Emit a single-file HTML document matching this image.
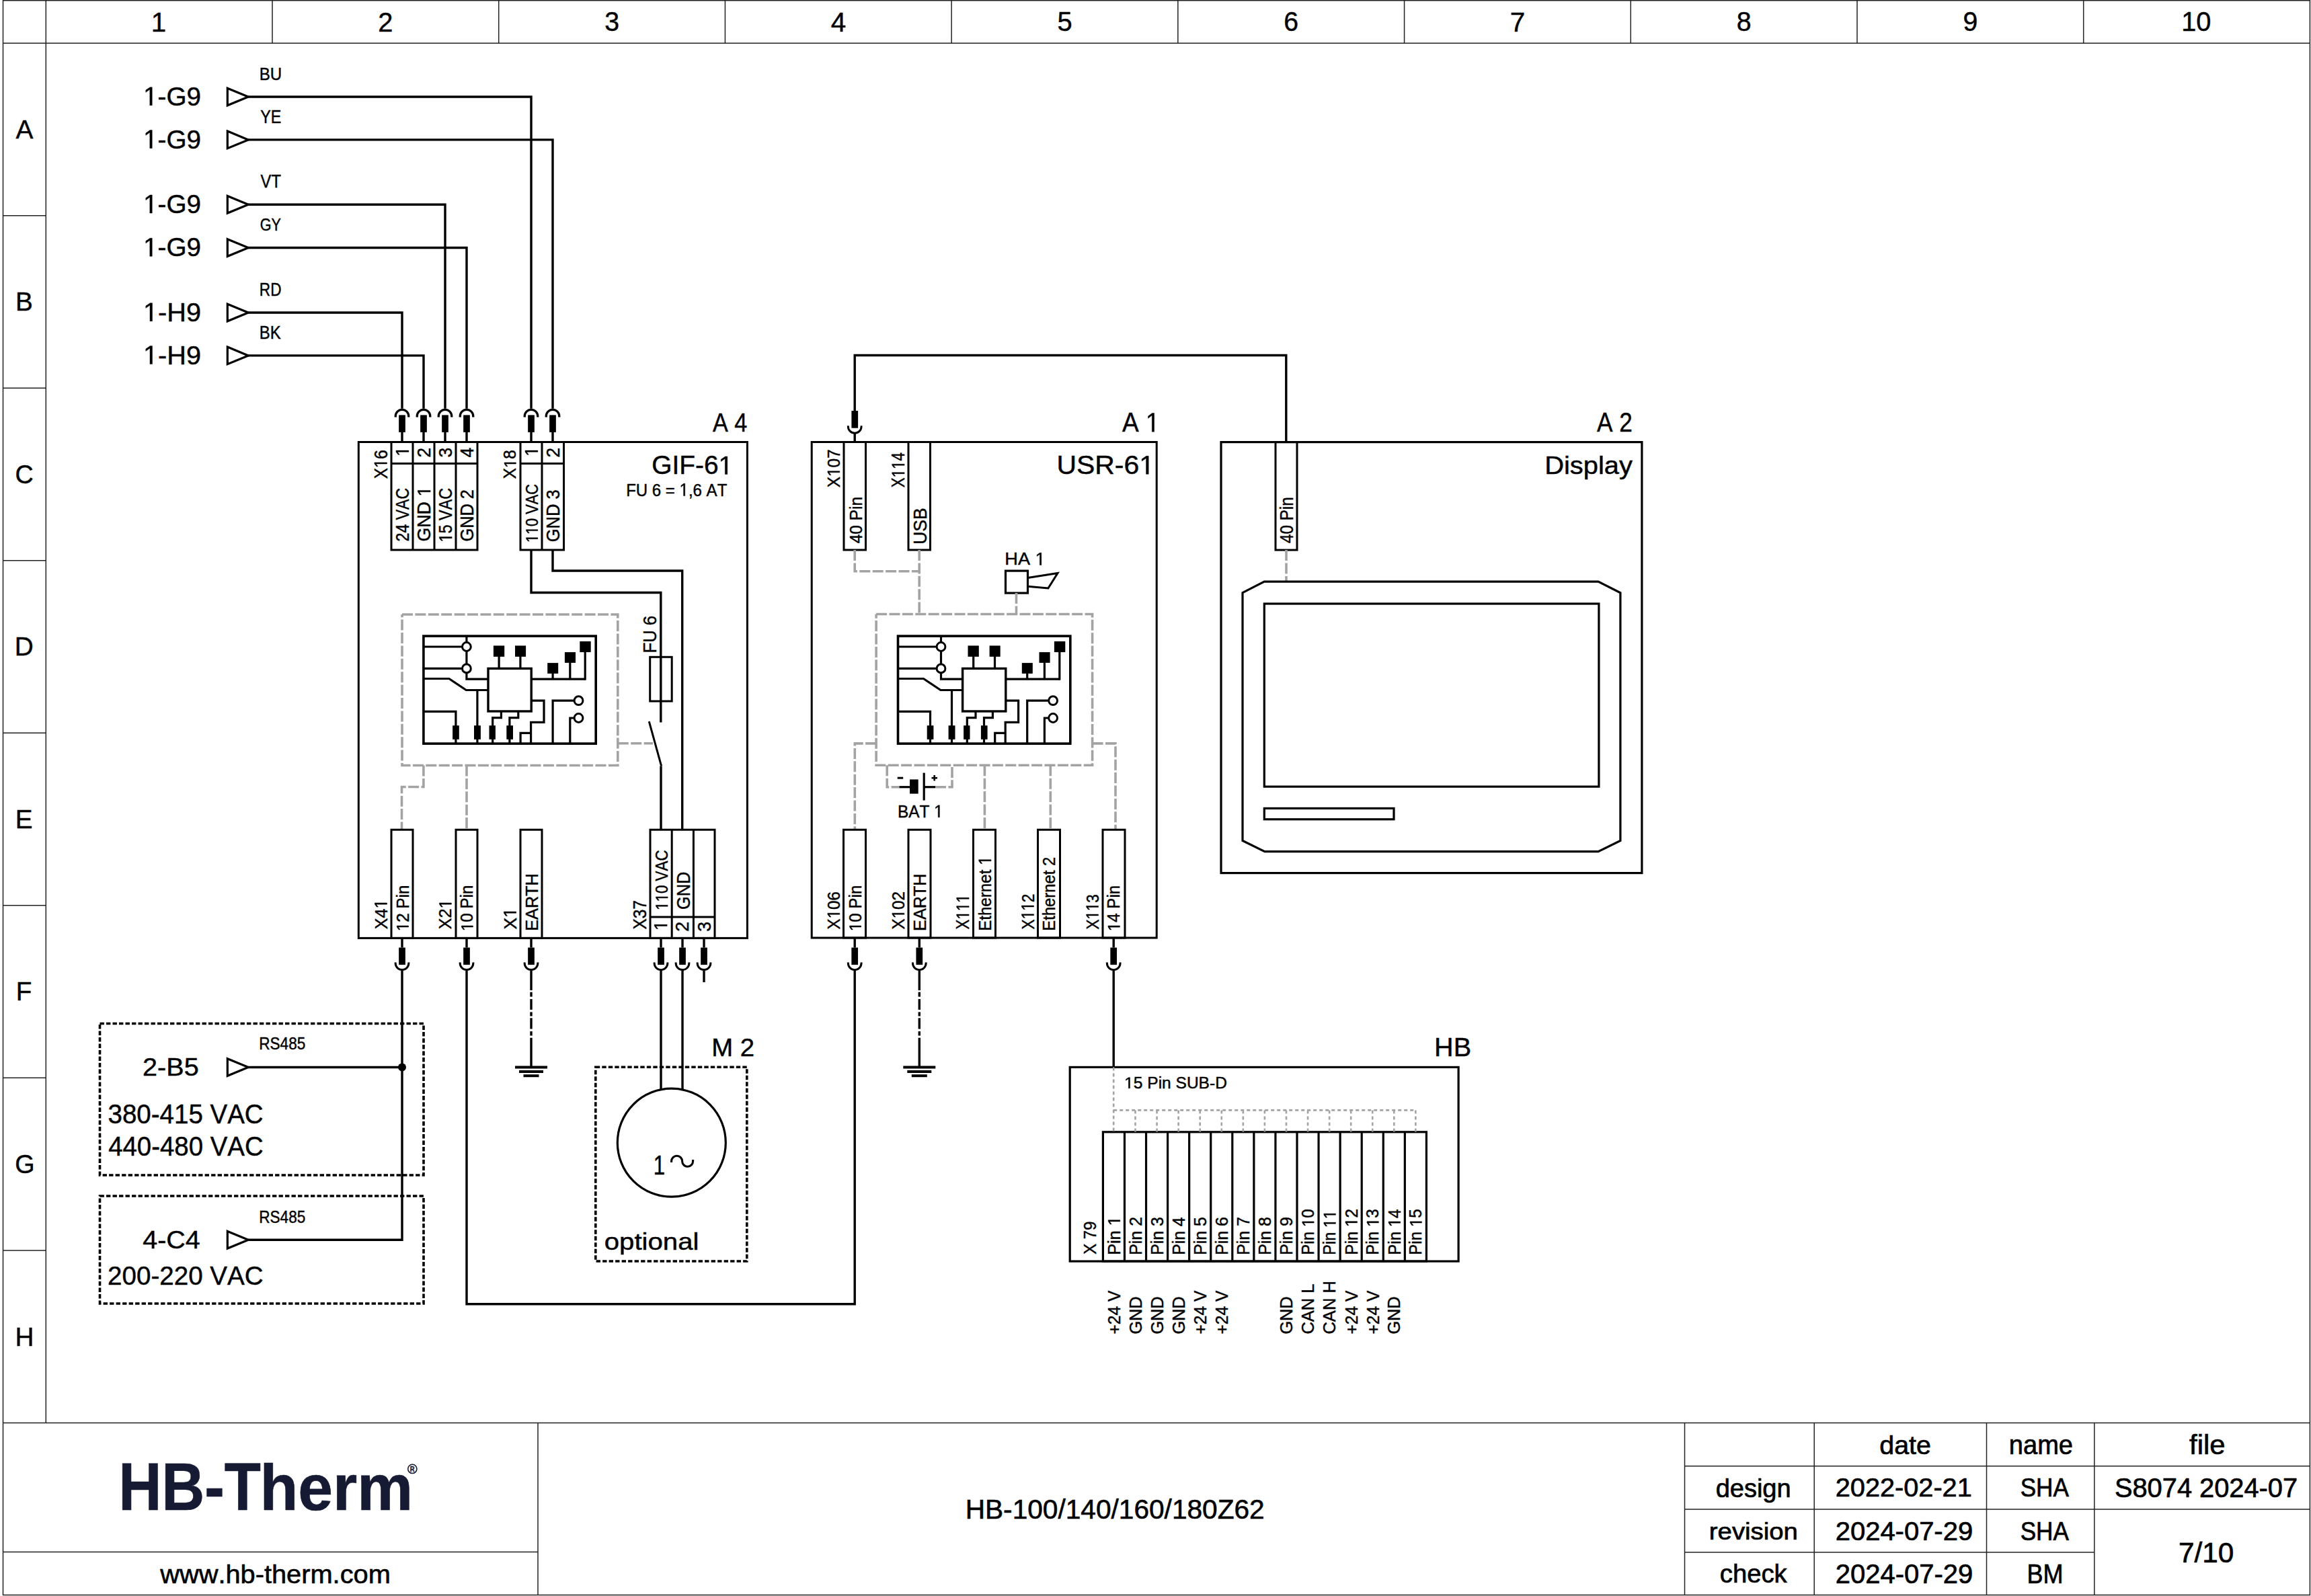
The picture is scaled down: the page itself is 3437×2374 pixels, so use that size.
<!DOCTYPE html>
<html><head><meta charset="utf-8"><style>
html,body{margin:0;padding:0;background:#fff;overflow:hidden;}
svg{display:block;}
text{font-family:"Liberation Sans",sans-serif;font-kerning:none;font-variant-ligatures:none;}
</style></head><body>
<svg width="3437" height="2374" viewBox="0 0 3437 2374">
<rect x="0" y="0" width="3437" height="2374" fill="#fff"/>
<g stroke="#222" stroke-width="1.50">
<rect x="4.50" y="0.75" width="3430.90" height="2371.75" stroke="#222" stroke-width="1.50" fill="none"/>
<line x1="4.50" y1="64.20" x2="3435.40" y2="64.20" stroke="#222" stroke-width="1.50"/>
<line x1="68.30" y1="0.75" x2="68.30" y2="2116.40" stroke="#222" stroke-width="1.50"/>
<line x1="405.01" y1="0.75" x2="405.01" y2="64.20" stroke="#222" stroke-width="1.50"/>
<line x1="741.72" y1="0.75" x2="741.72" y2="64.20" stroke="#222" stroke-width="1.50"/>
<line x1="1078.43" y1="0.75" x2="1078.43" y2="64.20" stroke="#222" stroke-width="1.50"/>
<line x1="1415.14" y1="0.75" x2="1415.14" y2="64.20" stroke="#222" stroke-width="1.50"/>
<line x1="1751.85" y1="0.75" x2="1751.85" y2="64.20" stroke="#222" stroke-width="1.50"/>
<line x1="2088.56" y1="0.75" x2="2088.56" y2="64.20" stroke="#222" stroke-width="1.50"/>
<line x1="2425.27" y1="0.75" x2="2425.27" y2="64.20" stroke="#222" stroke-width="1.50"/>
<line x1="2761.98" y1="0.75" x2="2761.98" y2="64.20" stroke="#222" stroke-width="1.50"/>
<line x1="3098.69" y1="0.75" x2="3098.69" y2="64.20" stroke="#222" stroke-width="1.50"/>
<line x1="4.50" y1="320.73" x2="68.30" y2="320.73" stroke="#222" stroke-width="1.50"/>
<line x1="4.50" y1="577.25" x2="68.30" y2="577.25" stroke="#222" stroke-width="1.50"/>
<line x1="4.50" y1="833.78" x2="68.30" y2="833.78" stroke="#222" stroke-width="1.50"/>
<line x1="4.50" y1="1090.30" x2="68.30" y2="1090.30" stroke="#222" stroke-width="1.50"/>
<line x1="4.50" y1="1346.83" x2="68.30" y2="1346.83" stroke="#222" stroke-width="1.50"/>
<line x1="4.50" y1="1603.35" x2="68.30" y2="1603.35" stroke="#222" stroke-width="1.50"/>
<line x1="4.50" y1="1859.88" x2="68.30" y2="1859.88" stroke="#222" stroke-width="1.50"/>
<line x1="4.50" y1="2116.40" x2="3435.40" y2="2116.40" stroke="#222" stroke-width="1.50"/>
<line x1="800.00" y1="2116.40" x2="800.00" y2="2372.50" stroke="#222" stroke-width="1.50"/>
<line x1="4.50" y1="2308.40" x2="800.00" y2="2308.40" stroke="#222" stroke-width="1.50"/>
<line x1="2505.50" y1="2116.40" x2="2505.50" y2="2372.50" stroke="#222" stroke-width="1.50"/>
<line x1="2698.20" y1="2116.40" x2="2698.20" y2="2372.50" stroke="#222" stroke-width="1.50"/>
<line x1="2954.50" y1="2116.40" x2="2954.50" y2="2372.50" stroke="#222" stroke-width="1.50"/>
<line x1="3114.80" y1="2116.40" x2="3114.80" y2="2372.50" stroke="#222" stroke-width="1.50"/>
<line x1="2505.50" y1="2180.70" x2="3435.40" y2="2180.70" stroke="#222" stroke-width="1.50"/>
<line x1="2505.50" y1="2244.90" x2="3435.40" y2="2244.90" stroke="#222" stroke-width="1.50"/>
<line x1="2505.50" y1="2309.10" x2="3114.80" y2="2309.10" stroke="#222" stroke-width="1.50"/>
</g>
<text x="224.87" y="46.77" font-size="41.43" textLength="22.46" lengthAdjust="spacingAndGlyphs" stroke="#000" stroke-width="0.45">1</text>
<text x="562.29" y="46.77" font-size="40.82" textLength="22.15" lengthAdjust="spacingAndGlyphs" stroke="#000" stroke-width="0.45">2</text>
<text x="899.26" y="46.38" font-size="40.25" textLength="21.86" lengthAdjust="spacingAndGlyphs" stroke="#000" stroke-width="0.45">3</text>
<text x="1235.64" y="46.77" font-size="41.43" textLength="22.54" lengthAdjust="spacingAndGlyphs" stroke="#000" stroke-width="0.45">4</text>
<text x="1572.44" y="46.38" font-size="40.85" textLength="22.19" lengthAdjust="spacingAndGlyphs" stroke="#000" stroke-width="0.45">5</text>
<text x="1909.15" y="46.38" font-size="40.25" textLength="21.84" lengthAdjust="spacingAndGlyphs" stroke="#000" stroke-width="0.45">6</text>
<text x="2245.65" y="46.77" font-size="41.43" textLength="22.49" lengthAdjust="spacingAndGlyphs" stroke="#000" stroke-width="0.45">7</text>
<text x="2582.70" y="46.38" font-size="40.25" textLength="21.85" lengthAdjust="spacingAndGlyphs" stroke="#000" stroke-width="0.45">8</text>
<text x="2919.42" y="46.38" font-size="40.25" textLength="21.85" lengthAdjust="spacingAndGlyphs" stroke="#000" stroke-width="0.45">9</text>
<text x="3244.17" y="46.38" font-size="40.25" textLength="44.27" lengthAdjust="spacingAndGlyphs" stroke="#000" stroke-width="0.45">10</text>
<text x="23.44" y="205.84" font-size="39.54" textLength="25.92" lengthAdjust="spacingAndGlyphs" stroke="#000" stroke-width="0.45">A</text>
<text x="22.93" y="462.36" font-size="39.54" textLength="25.81" lengthAdjust="spacingAndGlyphs" stroke="#000" stroke-width="0.45">B</text>
<text x="22.55" y="718.51" font-size="38.42" textLength="27.23" lengthAdjust="spacingAndGlyphs" stroke="#000" stroke-width="0.45">C</text>
<text x="21.74" y="975.41" font-size="39.54" textLength="28.00" lengthAdjust="spacingAndGlyphs" stroke="#000" stroke-width="0.45">D</text>
<text x="22.74" y="1231.94" font-size="39.54" textLength="25.82" lengthAdjust="spacingAndGlyphs" stroke="#000" stroke-width="0.45">E</text>
<text x="23.80" y="1488.46" font-size="39.54" textLength="23.59" lengthAdjust="spacingAndGlyphs" stroke="#000" stroke-width="0.45">F</text>
<text x="22.19" y="1744.61" font-size="38.42" textLength="29.35" lengthAdjust="spacingAndGlyphs" stroke="#000" stroke-width="0.45">G</text>
<text x="22.41" y="2001.51" font-size="39.54" textLength="27.97" lengthAdjust="spacingAndGlyphs" stroke="#000" stroke-width="0.45">H</text>
<text x="176.22" y="2246.45" font-size="101.02" textLength="211.78" lengthAdjust="spacingAndGlyphs" font-weight="bold" fill="#161b33" stroke="#161b33" stroke-width="0.70">HB-T</text>
<text x="386.45" y="2246.45" font-size="95.91" textLength="227.57" lengthAdjust="spacingAndGlyphs" font-weight="bold" fill="#161b33" stroke="#161b33" stroke-width="0.70">herm</text>
<circle cx="613.3" cy="2184.9" r="6.6" stroke="#161b33" stroke-width="1.6" fill="none"/>
<text x="609.80" y="2188.78" font-size="11.12" textLength="6.77" lengthAdjust="spacingAndGlyphs" font-weight="bold" fill="#161b33" stroke="#161b33" stroke-width="0.45">R</text>
<text x="238.26" y="2354.90" font-size="39.33" textLength="342.56" lengthAdjust="spacingAndGlyphs" stroke="#000" stroke-width="0.60">www.hb-therm.com</text>
<text x="1435.67" y="2258.90" font-size="40.55" textLength="445.08" lengthAdjust="spacingAndGlyphs" stroke="#000" stroke-width="0.60">HB-100/140/160/180Z62</text>
<g transform="translate(213.11 156.69)"><text x="0" y="0" font-size="39.19" textLength="85.90" lengthAdjust="spacingAndGlyphs" stroke="#000" stroke-width="0.45"> -G9</text><path transform="translate(0.000 0) scale(0.01887 -0.01914)" d="M515 0 L515 1237 L197 1010 L197 1180 L530 1409 L696 1409 L696 0 Z" fill="#000" stroke="#000" stroke-width="0.45" vector-effect="non-scaling-stroke"/></g>
<path d="M338.30 131.20 L369.30 144.00 L338.30 156.80 Z" stroke="#000" stroke-width="3.20" fill="none" stroke-linejoin="miter"/>
<path d="M369.30 144.00 L790.00 144.00 L790.00 607.70" stroke="#000" stroke-width="3.40" fill="none" stroke-linejoin="miter"/>
<text x="385.75" y="118.52" font-size="26.59" textLength="33.49" lengthAdjust="spacingAndGlyphs" stroke="#000" stroke-width="0.45">BU</text>
<g transform="translate(213.11 220.59)"><text x="0" y="0" font-size="39.19" textLength="85.90" lengthAdjust="spacingAndGlyphs" stroke="#000" stroke-width="0.45"> -G9</text><path transform="translate(0.000 0) scale(0.01887 -0.01914)" d="M515 0 L515 1237 L197 1010 L197 1180 L530 1409 L696 1409 L696 0 Z" fill="#000" stroke="#000" stroke-width="0.45" vector-effect="non-scaling-stroke"/></g>
<path d="M338.30 195.10 L369.30 207.90 L338.30 220.70 Z" stroke="#000" stroke-width="3.20" fill="none" stroke-linejoin="miter"/>
<path d="M369.30 207.90 L822.00 207.90 L822.00 607.70" stroke="#000" stroke-width="3.40" fill="none" stroke-linejoin="miter"/>
<text x="387.21" y="182.68" font-size="26.96" textLength="31.17" lengthAdjust="spacingAndGlyphs" stroke="#000" stroke-width="0.45">YE</text>
<g transform="translate(213.11 316.99)"><text x="0" y="0" font-size="39.19" textLength="85.90" lengthAdjust="spacingAndGlyphs" stroke="#000" stroke-width="0.45"> -G9</text><path transform="translate(0.000 0) scale(0.01887 -0.01914)" d="M515 0 L515 1237 L197 1010 L197 1180 L530 1409 L696 1409 L696 0 Z" fill="#000" stroke="#000" stroke-width="0.45" vector-effect="non-scaling-stroke"/></g>
<path d="M338.30 291.50 L369.30 304.30 L338.30 317.10 Z" stroke="#000" stroke-width="3.20" fill="none" stroke-linejoin="miter"/>
<path d="M369.30 304.30 L662.00 304.30 L662.00 607.70" stroke="#000" stroke-width="3.40" fill="none" stroke-linejoin="miter"/>
<text x="387.62" y="279.07" font-size="26.96" textLength="30.30" lengthAdjust="spacingAndGlyphs" stroke="#000" stroke-width="0.45">VT</text>
<g transform="translate(213.11 381.19)"><text x="0" y="0" font-size="39.19" textLength="85.90" lengthAdjust="spacingAndGlyphs" stroke="#000" stroke-width="0.45"> -G9</text><path transform="translate(0.000 0) scale(0.01887 -0.01914)" d="M515 0 L515 1237 L197 1010 L197 1180 L530 1409 L696 1409 L696 0 Z" fill="#000" stroke="#000" stroke-width="0.45" vector-effect="non-scaling-stroke"/></g>
<path d="M338.30 355.70 L369.30 368.50 L338.30 381.30 Z" stroke="#000" stroke-width="3.20" fill="none" stroke-linejoin="miter"/>
<path d="M369.30 368.50 L694.00 368.50 L694.00 607.70" stroke="#000" stroke-width="3.40" fill="none" stroke-linejoin="miter"/>
<text x="386.64" y="343.02" font-size="26.20" textLength="31.21" lengthAdjust="spacingAndGlyphs" stroke="#000" stroke-width="0.45">GY</text>
<g transform="translate(213.01 477.69)"><text x="0" y="0" font-size="39.19" textLength="86.05" lengthAdjust="spacingAndGlyphs" stroke="#000" stroke-width="0.45"> -H9</text><path transform="translate(0.000 0) scale(0.01938 -0.01914)" d="M515 0 L515 1237 L197 1010 L197 1180 L530 1409 L696 1409 L696 0 Z" fill="#000" stroke="#000" stroke-width="0.45" vector-effect="non-scaling-stroke"/></g>
<path d="M338.30 452.20 L369.30 465.00 L338.30 477.80 Z" stroke="#000" stroke-width="3.20" fill="none" stroke-linejoin="miter"/>
<path d="M369.30 465.00 L598.00 465.00 L598.00 607.70" stroke="#000" stroke-width="3.40" fill="none" stroke-linejoin="miter"/>
<text x="385.87" y="439.77" font-size="26.96" textLength="32.58" lengthAdjust="spacingAndGlyphs" stroke="#000" stroke-width="0.45">RD</text>
<g transform="translate(213.01 541.59)"><text x="0" y="0" font-size="39.19" textLength="86.05" lengthAdjust="spacingAndGlyphs" stroke="#000" stroke-width="0.45"> -H9</text><path transform="translate(0.000 0) scale(0.01938 -0.01914)" d="M515 0 L515 1237 L197 1010 L197 1180 L530 1409 L696 1409 L696 0 Z" fill="#000" stroke="#000" stroke-width="0.45" vector-effect="non-scaling-stroke"/></g>
<path d="M338.30 516.10 L369.30 528.90 L338.30 541.70 Z" stroke="#000" stroke-width="3.20" fill="none" stroke-linejoin="miter"/>
<path d="M369.30 528.90 L630.00 528.90 L630.00 607.70" stroke="#000" stroke-width="3.40" fill="none" stroke-linejoin="miter"/>
<text x="385.76" y="503.67" font-size="26.96" textLength="31.88" lengthAdjust="spacingAndGlyphs" stroke="#000" stroke-width="0.45">BK</text>
<path d="M780.25 620.6 L780.25 619.1 A9.75 9.75 0 0 1 799.75 619.1 L799.75 620.6" stroke="#000" stroke-width="3.3" fill="none"/>
<rect x="785.15" y="617.40" width="9.70" height="25.60" fill="#000"/>
<line x1="790.00" y1="643.00" x2="790.00" y2="657.50" stroke="#000" stroke-width="3.40"/>
<path d="M812.25 620.6 L812.25 619.1 A9.75 9.75 0 0 1 831.75 619.1 L831.75 620.6" stroke="#000" stroke-width="3.3" fill="none"/>
<rect x="817.15" y="617.40" width="9.70" height="25.60" fill="#000"/>
<line x1="822.00" y1="643.00" x2="822.00" y2="657.50" stroke="#000" stroke-width="3.40"/>
<path d="M652.25 620.6 L652.25 619.1 A9.75 9.75 0 0 1 671.75 619.1 L671.75 620.6" stroke="#000" stroke-width="3.3" fill="none"/>
<rect x="657.15" y="617.40" width="9.70" height="25.60" fill="#000"/>
<line x1="662.00" y1="643.00" x2="662.00" y2="657.50" stroke="#000" stroke-width="3.40"/>
<path d="M684.25 620.6 L684.25 619.1 A9.75 9.75 0 0 1 703.75 619.1 L703.75 620.6" stroke="#000" stroke-width="3.3" fill="none"/>
<rect x="689.15" y="617.40" width="9.70" height="25.60" fill="#000"/>
<line x1="694.00" y1="643.00" x2="694.00" y2="657.50" stroke="#000" stroke-width="3.40"/>
<path d="M588.25 620.6 L588.25 619.1 A9.75 9.75 0 0 1 607.75 619.1 L607.75 620.6" stroke="#000" stroke-width="3.3" fill="none"/>
<rect x="593.15" y="617.40" width="9.70" height="25.60" fill="#000"/>
<line x1="598.00" y1="643.00" x2="598.00" y2="657.50" stroke="#000" stroke-width="3.40"/>
<path d="M620.25 620.6 L620.25 619.1 A9.75 9.75 0 0 1 639.75 619.1 L639.75 620.6" stroke="#000" stroke-width="3.3" fill="none"/>
<rect x="625.15" y="617.40" width="9.70" height="25.60" fill="#000"/>
<line x1="630.00" y1="643.00" x2="630.00" y2="657.50" stroke="#000" stroke-width="3.40"/>
<rect x="533.30" y="657.50" width="578.10" height="737.90" stroke="#000" stroke-width="3.00" fill="none"/>
<rect x="582.00" y="657.50" width="128.00" height="160.50" stroke="#000" stroke-width="3.00" fill="none"/>
<line x1="614.00" y1="657.50" x2="614.00" y2="818.00" stroke="#000" stroke-width="3.00"/>
<line x1="646.00" y1="657.50" x2="646.00" y2="818.00" stroke="#000" stroke-width="3.00"/>
<line x1="678.00" y1="657.50" x2="678.00" y2="818.00" stroke="#000" stroke-width="3.00"/>
<line x1="582.00" y1="689.50" x2="710.00" y2="689.50" stroke="#000" stroke-width="3.00"/>
<rect x="774.00" y="657.50" width="64.50" height="160.50" stroke="#000" stroke-width="3.00" fill="none"/>
<line x1="806.00" y1="657.50" x2="806.00" y2="818.00" stroke="#000" stroke-width="3.00"/>
<line x1="774.00" y1="689.50" x2="838.50" y2="689.50" stroke="#000" stroke-width="3.00"/>
<text x="1059.96" y="641.57" font-size="38.30" textLength="51.32" lengthAdjust="spacingAndGlyphs" stroke="#000" stroke-width="0.45">A 4</text>
<g transform="translate(969.27 705.40)"><text x="0" y="0" font-size="38.35" textLength="120.91" lengthAdjust="spacingAndGlyphs" stroke="#000" stroke-width="0.45">GIF-6 </text><path transform="translate(99.300 0) scale(0.01897 -0.01872)" d="M515 0 L515 1237 L197 1010 L197 1180 L530 1409 L696 1409 L696 0 Z" fill="#000" stroke="#000" stroke-width="0.45" vector-effect="non-scaling-stroke"/></g>
<g transform="translate(931.15 737.50)"><text x="0" y="0" font-size="26.50" textLength="150.17" lengthAdjust="spacingAndGlyphs" stroke="#000" stroke-width="0.45">FU 6 =  ,6 AT</text><path transform="translate(79.419 0) scale(0.01173 -0.01294)" d="M515 0 L515 1237 L197 1010 L197 1180 L530 1409 L696 1409 L696 0 Z" fill="#000" stroke="#000" stroke-width="0.45" vector-effect="non-scaling-stroke"/></g>
<g transform="translate(575.51 712.32) rotate(-90)"><text x="0" y="0" font-size="27.05" textLength="43.16" lengthAdjust="spacingAndGlyphs" stroke="#000" stroke-width="0.45">X 6</text><path transform="translate(16.179 0) scale(0.01184 -0.01321)" d="M515 0 L515 1237 L197 1010 L197 1180 L530 1409 L696 1409 L696 0 Z" fill="#000" stroke="#000" stroke-width="0.45" vector-effect="non-scaling-stroke"/></g>
<g transform="translate(767.43 712.32) rotate(-90)"><text x="0" y="0" font-size="25.21" textLength="43.15" lengthAdjust="spacingAndGlyphs" stroke="#000" stroke-width="0.45">X 8</text><path transform="translate(16.175 0) scale(0.01184 -0.01231)" d="M515 0 L515 1237 L197 1010 L197 1180 L530 1409 L696 1409 L696 0 Z" fill="#000" stroke="#000" stroke-width="0.45" vector-effect="non-scaling-stroke"/></g>
<g transform="translate(607.88 678.79) rotate(-90)"><text x="0" y="0" font-size="27.47" textLength="14.25" lengthAdjust="spacingAndGlyphs" stroke="#000" stroke-width="0.45"> </text><path transform="translate(0.000 0) scale(0.01251 -0.01341)" d="M515 0 L515 1237 L197 1010 L197 1180 L530 1409 L696 1409 L696 0 Z" fill="#000" stroke="#000" stroke-width="0.45" vector-effect="non-scaling-stroke"/></g>
<text transform="translate(639.88 680.56) rotate(-90)" font-size="27.47" textLength="14.73" lengthAdjust="spacingAndGlyphs" stroke="#000" stroke-width="0.45">2</text>
<text transform="translate(671.88 680.50) rotate(-90)" font-size="27.47" textLength="14.75" lengthAdjust="spacingAndGlyphs" stroke="#000" stroke-width="0.45">3</text>
<text transform="translate(703.88 680.51) rotate(-90)" font-size="27.47" textLength="14.78" lengthAdjust="spacingAndGlyphs" stroke="#000" stroke-width="0.45">4</text>
<g transform="translate(799.88 678.79) rotate(-90)"><text x="0" y="0" font-size="27.47" textLength="14.25" lengthAdjust="spacingAndGlyphs" stroke="#000" stroke-width="0.45"> </text><path transform="translate(0.000 0) scale(0.01251 -0.01341)" d="M515 0 L515 1237 L197 1010 L197 1180 L530 1409 L696 1409 L696 0 Z" fill="#000" stroke="#000" stroke-width="0.45" vector-effect="non-scaling-stroke"/></g>
<text transform="translate(831.88 680.56) rotate(-90)" font-size="27.47" textLength="14.73" lengthAdjust="spacingAndGlyphs" stroke="#000" stroke-width="0.45">2</text>
<text transform="translate(608.11 805.44) rotate(-90)" font-size="27.33" textLength="79.69" lengthAdjust="spacingAndGlyphs" stroke="#000" stroke-width="0.45">24 VAC</text>
<g transform="translate(640.11 805.62) rotate(-90)"><text x="0" y="0" font-size="27.33" textLength="82.00" lengthAdjust="spacingAndGlyphs" stroke="#000" stroke-width="0.45">GND  </text><path transform="translate(67.081 0) scale(0.01310 -0.01334)" d="M515 0 L515 1237 L197 1010 L197 1180 L530 1409 L696 1409 L696 0 Z" fill="#000" stroke="#000" stroke-width="0.45" vector-effect="non-scaling-stroke"/></g>
<g transform="translate(672.11 806.53) rotate(-90)"><text x="0" y="0" font-size="27.33" textLength="80.80" lengthAdjust="spacingAndGlyphs" stroke="#000" stroke-width="0.45"> 5 VAC</text><path transform="translate(0.000 0) scale(0.01145 -0.01334)" d="M515 0 L515 1237 L197 1010 L197 1180 L530 1409 L696 1409 L696 0 Z" fill="#000" stroke="#000" stroke-width="0.45" vector-effect="non-scaling-stroke"/></g>
<text transform="translate(704.11 805.55) rotate(-90)" font-size="27.33" textLength="77.40" lengthAdjust="spacingAndGlyphs" stroke="#000" stroke-width="0.45">GND 2</text>
<g transform="translate(799.83 807.17) rotate(-90)"><text x="0" y="0" font-size="25.21" textLength="87.07" lengthAdjust="spacingAndGlyphs" stroke="#000" stroke-width="0.45">  0 VAC</text><path transform="translate(0.000 0) scale(0.01062 -0.01231)" d="M515 0 L515 1237 L197 1010 L197 1180 L530 1409 L696 1409 L696 0 Z" fill="#000" stroke="#000" stroke-width="0.45" vector-effect="non-scaling-stroke"/><path transform="translate(12.099 0) scale(0.01062 -0.01231)" d="M515 0 L515 1237 L197 1010 L197 1180 L530 1409 L696 1409 L696 0 Z" fill="#000" stroke="#000" stroke-width="0.45" vector-effect="non-scaling-stroke"/></g>
<text transform="translate(832.31 806.36) rotate(-90)" font-size="27.33" textLength="78.06" lengthAdjust="spacingAndGlyphs" stroke="#000" stroke-width="0.45">GND 3</text>
<path d="M790.00 818.00 L790.00 881.50 L982.80 881.50 L982.80 1074.60" stroke="#000" stroke-width="3.40" fill="none" stroke-linejoin="miter"/>
<rect x="966.70" y="977.30" width="32.50" height="65.70" stroke="#000" stroke-width="3.00" fill="none"/>
<line x1="965.30" y1="1073.20" x2="983.60" y2="1139.40" stroke="#000" stroke-width="3.00"/>
<path d="M983.00 1139.40 L983.00 1234.20" stroke="#000" stroke-width="3.40" fill="none" stroke-linejoin="miter"/>
<path d="M822.00 818.00 L822.00 849.00 L1014.70 849.00 L1014.70 1234.20" stroke="#000" stroke-width="3.40" fill="none" stroke-linejoin="miter"/>
<text transform="translate(976.11 971.59) rotate(-90)" font-size="27.33" textLength="55.79" lengthAdjust="spacingAndGlyphs" stroke="#000" stroke-width="0.45">FU 6</text>
<g transform="translate(0.00 0)">
<rect x="629.90" y="946.10" width="256.30" height="160.00" stroke="#000" stroke-width="3.60" fill="none"/>
<circle cx="693.9" cy="962.00" r="6.4" stroke="#000" stroke-width="3" fill="none"/>
<line x1="629.90" y1="962.00" x2="687.50" y2="962.00" stroke="#000" stroke-width="3.20"/>
<circle cx="693.9" cy="994.40" r="6.4" stroke="#000" stroke-width="3" fill="none"/>
<line x1="629.90" y1="994.40" x2="687.50" y2="994.40" stroke="#000" stroke-width="3.20"/>
<line x1="693.90" y1="946.10" x2="693.90" y2="955.60" stroke="#000" stroke-width="3.20"/>
<line x1="693.90" y1="968.40" x2="693.90" y2="988.00" stroke="#000" stroke-width="3.20"/>
<path d="M693.90 1000.80 L693.90 1010.10 L726.00 1010.10" stroke="#000" stroke-width="3.20" fill="none" stroke-linejoin="miter"/>
<path d="M629.90 1009.50 L667.90 1009.50 L693.30 1026.50 L726.00 1026.50" stroke="#000" stroke-width="3.20" fill="none" stroke-linejoin="miter"/>
<rect x="726.00" y="994.40" width="64.20" height="63.60" stroke="#000" stroke-width="3.40" fill="none"/>
<rect x="733.90" y="960.40" width="16.30" height="16.40" fill="#000"/>
<rect x="766.00" y="960.40" width="16.10" height="16.40" fill="#000"/>
<line x1="742.10" y1="976.00" x2="742.10" y2="994.40" stroke="#000" stroke-width="3.20"/>
<line x1="773.90" y1="976.00" x2="773.90" y2="994.40" stroke="#000" stroke-width="3.20"/>
<line x1="790.20" y1="1010.10" x2="870.50" y2="1010.10" stroke="#000" stroke-width="3.20"/>
<rect x="814.20" y="986.10" width="16.00" height="15.80" fill="#000"/>
<rect x="839.90" y="970.10" width="16.10" height="15.80" fill="#000"/>
<rect x="862.30" y="954.00" width="16.40" height="16.10" fill="#000"/>
<line x1="822.10" y1="1001.00" x2="822.10" y2="1010.10" stroke="#000" stroke-width="3.20"/>
<line x1="847.80" y1="985.00" x2="847.80" y2="1010.10" stroke="#000" stroke-width="3.20"/>
<line x1="870.20" y1="969.00" x2="870.20" y2="1011.60" stroke="#000" stroke-width="3.20"/>
<path d="M745.40 1058.00 L745.40 1067.70 L732.70 1067.70 L732.70 1106.00" stroke="#000" stroke-width="3.20" fill="none" stroke-linejoin="miter"/>
<rect x="727.50" y="1079.20" width="9.40" height="20.60" fill="#000"/>
<path d="M770.80 1058.00 L770.80 1067.70 L757.90 1067.70 L757.90 1106.00" stroke="#000" stroke-width="3.20" fill="none" stroke-linejoin="miter"/>
<rect x="753.30" y="1079.20" width="9.70" height="20.60" fill="#000"/>
<path d="M629.90 1058.30 L677.90 1058.30 L677.90 1106.00" stroke="#000" stroke-width="3.20" fill="none" stroke-linejoin="miter"/>
<rect x="673.10" y="1079.20" width="9.70" height="20.60" fill="#000"/>
<line x1="709.90" y1="1026.50" x2="709.90" y2="1106.00" stroke="#000" stroke-width="3.20"/>
<rect x="705.00" y="1079.20" width="9.90" height="20.60" fill="#000"/>
<path d="M790.20 1042.20 L809.00 1042.20 L809.00 1074.30 L789.60 1074.30 L789.60 1106.00" stroke="#000" stroke-width="3.20" fill="none" stroke-linejoin="miter"/>
<path d="M789.60 1090.40 L774.10 1090.40 L774.10 1106.00" stroke="#000" stroke-width="3.20" fill="none" stroke-linejoin="miter"/>
<path d="M822.10 1106.00 L822.10 1042.20 L854.10 1042.20" stroke="#000" stroke-width="3.20" fill="none" stroke-linejoin="miter"/>
<circle cx="860.5" cy="1042.2" r="6.4" stroke="#000" stroke-width="3" fill="none"/>
<path d="M847.80 1106.00 L847.80 1068.00 L854.10 1068.00" stroke="#000" stroke-width="3.20" fill="none" stroke-linejoin="miter"/>
<circle cx="860.5" cy="1068" r="6.4" stroke="#000" stroke-width="3" fill="none"/>
</g>
<g transform="translate(705.60 0)">
<rect x="629.90" y="946.10" width="256.30" height="160.00" stroke="#000" stroke-width="3.60" fill="none"/>
<circle cx="693.9" cy="962.00" r="6.4" stroke="#000" stroke-width="3" fill="none"/>
<line x1="629.90" y1="962.00" x2="687.50" y2="962.00" stroke="#000" stroke-width="3.20"/>
<circle cx="693.9" cy="994.40" r="6.4" stroke="#000" stroke-width="3" fill="none"/>
<line x1="629.90" y1="994.40" x2="687.50" y2="994.40" stroke="#000" stroke-width="3.20"/>
<line x1="693.90" y1="946.10" x2="693.90" y2="955.60" stroke="#000" stroke-width="3.20"/>
<line x1="693.90" y1="968.40" x2="693.90" y2="988.00" stroke="#000" stroke-width="3.20"/>
<path d="M693.90 1000.80 L693.90 1010.10 L726.00 1010.10" stroke="#000" stroke-width="3.20" fill="none" stroke-linejoin="miter"/>
<path d="M629.90 1009.50 L667.90 1009.50 L693.30 1026.50 L726.00 1026.50" stroke="#000" stroke-width="3.20" fill="none" stroke-linejoin="miter"/>
<rect x="726.00" y="994.40" width="64.20" height="63.60" stroke="#000" stroke-width="3.40" fill="none"/>
<rect x="733.90" y="960.40" width="16.30" height="16.40" fill="#000"/>
<rect x="766.00" y="960.40" width="16.10" height="16.40" fill="#000"/>
<line x1="742.10" y1="976.00" x2="742.10" y2="994.40" stroke="#000" stroke-width="3.20"/>
<line x1="773.90" y1="976.00" x2="773.90" y2="994.40" stroke="#000" stroke-width="3.20"/>
<line x1="790.20" y1="1010.10" x2="870.50" y2="1010.10" stroke="#000" stroke-width="3.20"/>
<rect x="814.20" y="986.10" width="16.00" height="15.80" fill="#000"/>
<rect x="839.90" y="970.10" width="16.10" height="15.80" fill="#000"/>
<rect x="862.30" y="954.00" width="16.40" height="16.10" fill="#000"/>
<line x1="822.10" y1="1001.00" x2="822.10" y2="1010.10" stroke="#000" stroke-width="3.20"/>
<line x1="847.80" y1="985.00" x2="847.80" y2="1010.10" stroke="#000" stroke-width="3.20"/>
<line x1="870.20" y1="969.00" x2="870.20" y2="1011.60" stroke="#000" stroke-width="3.20"/>
<path d="M745.40 1058.00 L745.40 1067.70 L732.70 1067.70 L732.70 1106.00" stroke="#000" stroke-width="3.20" fill="none" stroke-linejoin="miter"/>
<rect x="727.50" y="1079.20" width="9.40" height="20.60" fill="#000"/>
<path d="M770.80 1058.00 L770.80 1067.70 L757.90 1067.70 L757.90 1106.00" stroke="#000" stroke-width="3.20" fill="none" stroke-linejoin="miter"/>
<rect x="753.30" y="1079.20" width="9.70" height="20.60" fill="#000"/>
<path d="M629.90 1058.30 L677.90 1058.30 L677.90 1106.00" stroke="#000" stroke-width="3.20" fill="none" stroke-linejoin="miter"/>
<rect x="673.10" y="1079.20" width="9.70" height="20.60" fill="#000"/>
<line x1="709.90" y1="1026.50" x2="709.90" y2="1106.00" stroke="#000" stroke-width="3.20"/>
<rect x="705.00" y="1079.20" width="9.90" height="20.60" fill="#000"/>
<path d="M790.20 1042.20 L809.00 1042.20 L809.00 1074.30 L789.60 1074.30 L789.60 1106.00" stroke="#000" stroke-width="3.20" fill="none" stroke-linejoin="miter"/>
<path d="M789.60 1090.40 L774.10 1090.40 L774.10 1106.00" stroke="#000" stroke-width="3.20" fill="none" stroke-linejoin="miter"/>
<path d="M822.10 1106.00 L822.10 1042.20 L854.10 1042.20" stroke="#000" stroke-width="3.20" fill="none" stroke-linejoin="miter"/>
<circle cx="860.5" cy="1042.2" r="6.4" stroke="#000" stroke-width="3" fill="none"/>
<path d="M847.80 1106.00 L847.80 1068.00 L854.10 1068.00" stroke="#000" stroke-width="3.20" fill="none" stroke-linejoin="miter"/>
<circle cx="860.5" cy="1068" r="6.4" stroke="#000" stroke-width="3" fill="none"/>
</g>
<path d="M598.00 914.00 L918.80 914.00 L918.80 1138.50 L598.00 1138.50 L598.00 914.00" stroke="#a3a3a3" stroke-width="3.60" fill="none" stroke-linejoin="miter" stroke-dasharray="16 3.4"/>
<path d="M629.90 1138.50 L629.90 1170.50 L597.50 1170.50 L597.50 1234.20" stroke="#a3a3a3" stroke-width="3.60" fill="none" stroke-linejoin="miter" stroke-dasharray="16 3.4"/>
<path d="M694.00 1138.50 L694.00 1234.20" stroke="#a3a3a3" stroke-width="3.60" fill="none" stroke-linejoin="miter" stroke-dasharray="16 3.4"/>
<path d="M918.80 1105.80 L971.00 1105.80" stroke="#a3a3a3" stroke-width="3.60" fill="none" stroke-linejoin="miter" stroke-dasharray="16 3.4"/>
<rect x="582.00" y="1234.20" width="32.00" height="161.20" stroke="#000" stroke-width="3.00" fill="none"/>
<rect x="678.00" y="1234.20" width="32.00" height="161.20" stroke="#000" stroke-width="3.00" fill="none"/>
<rect x="774.00" y="1234.20" width="32.00" height="161.20" stroke="#000" stroke-width="3.00" fill="none"/>
<rect x="967.00" y="1234.20" width="96.00" height="161.20" stroke="#000" stroke-width="3.00" fill="none"/>
<line x1="999.20" y1="1234.20" x2="999.20" y2="1395.40" stroke="#000" stroke-width="3.00"/>
<line x1="1031.40" y1="1234.20" x2="1031.40" y2="1395.40" stroke="#000" stroke-width="3.00"/>
<line x1="967.00" y1="1364.00" x2="1063.00" y2="1364.00" stroke="#000" stroke-width="3.00"/>
<g transform="translate(575.57 1382.14) rotate(-90)"><text x="0" y="0" font-size="26.53" textLength="44.52" lengthAdjust="spacingAndGlyphs" stroke="#000" stroke-width="0.45">X4 </text><path transform="translate(30.608 0) scale(0.01222 -0.01295)" d="M515 0 L515 1237 L197 1010 L197 1180 L530 1409 L696 1409 L696 0 Z" fill="#000" stroke="#000" stroke-width="0.45" vector-effect="non-scaling-stroke"/></g>
<g transform="translate(607.57 1385.20) rotate(-90)"><text x="0" y="0" font-size="25.19" textLength="68.65" lengthAdjust="spacingAndGlyphs" stroke="#000" stroke-width="0.45"> 2 Pin</text><path transform="translate(0.000 0) scale(0.01182 -0.01230)" d="M515 0 L515 1237 L197 1010 L197 1180 L530 1409 L696 1409 L696 0 Z" fill="#000" stroke="#000" stroke-width="0.45" vector-effect="non-scaling-stroke"/></g>
<g transform="translate(671.38 1382.14) rotate(-90)"><text x="0" y="0" font-size="26.14" textLength="44.52" lengthAdjust="spacingAndGlyphs" stroke="#000" stroke-width="0.45">X2 </text><path transform="translate(30.608 0) scale(0.01222 -0.01276)" d="M515 0 L515 1237 L197 1010 L197 1180 L530 1409 L696 1409 L696 0 Z" fill="#000" stroke="#000" stroke-width="0.45" vector-effect="non-scaling-stroke"/></g>
<g transform="translate(703.43 1385.20) rotate(-90)"><text x="0" y="0" font-size="24.85" textLength="68.65" lengthAdjust="spacingAndGlyphs" stroke="#000" stroke-width="0.45"> 0 Pin</text><path transform="translate(0.000 0) scale(0.01182 -0.01213)" d="M515 0 L515 1237 L197 1010 L197 1180 L530 1409 L696 1409 L696 0 Z" fill="#000" stroke="#000" stroke-width="0.45" vector-effect="non-scaling-stroke"/></g>
<g transform="translate(767.67 1382.46) rotate(-90)"><text x="0" y="0" font-size="26.67" textLength="32.12" lengthAdjust="spacingAndGlyphs" stroke="#000" stroke-width="0.45">X </text><path transform="translate(17.515 0) scale(0.01282 -0.01302)" d="M515 0 L515 1237 L197 1010 L197 1180 L530 1409 L696 1409 L696 0 Z" fill="#000" stroke="#000" stroke-width="0.45" vector-effect="non-scaling-stroke"/></g>
<text transform="translate(799.98 1384.85) rotate(-90)" font-size="26.67" textLength="85.69" lengthAdjust="spacingAndGlyphs" stroke="#000" stroke-width="0.45">EARTH</text>
<text transform="translate(960.61 1382.52) rotate(-90)" font-size="27.19" textLength="43.53" lengthAdjust="spacingAndGlyphs" stroke="#000" stroke-width="0.45">X37</text>
<g transform="translate(993.12 1353.93) rotate(-90)"><text x="0" y="0" font-size="25.64" textLength="89.55" lengthAdjust="spacingAndGlyphs" stroke="#000" stroke-width="0.45">  0 VAC</text><path transform="translate(0.000 0) scale(0.01093 -0.01252)" d="M515 0 L515 1237 L197 1010 L197 1180 L530 1409 L696 1409 L696 0 Z" fill="#000" stroke="#000" stroke-width="0.45" vector-effect="non-scaling-stroke"/><path transform="translate(12.444 0) scale(0.01093 -0.01252)" d="M515 0 L515 1237 L197 1010 L197 1180 L530 1409 L696 1409 L696 0 Z" fill="#000" stroke="#000" stroke-width="0.45" vector-effect="non-scaling-stroke"/></g>
<text transform="translate(1025.91 1353.05) rotate(-90)" font-size="26.77" textLength="56.44" lengthAdjust="spacingAndGlyphs" stroke="#000" stroke-width="0.45">GND</text>
<g transform="translate(992.17 1384.02) rotate(-90)"><text x="0" y="0" font-size="27.62" textLength="14.33" lengthAdjust="spacingAndGlyphs" stroke="#000" stroke-width="0.45"> </text><path transform="translate(0.000 0) scale(0.01258 -0.01348)" d="M515 0 L515 1237 L197 1010 L197 1180 L530 1409 L696 1409 L696 0 Z" fill="#000" stroke="#000" stroke-width="0.45" vector-effect="non-scaling-stroke"/></g>
<text transform="translate(1024.38 1385.80) rotate(-90)" font-size="27.62" textLength="14.81" lengthAdjust="spacingAndGlyphs" stroke="#000" stroke-width="0.45">2</text>
<text transform="translate(1056.58 1385.74) rotate(-90)" font-size="27.62" textLength="14.83" lengthAdjust="spacingAndGlyphs" stroke="#000" stroke-width="0.45">3</text>
<line x1="598.00" y1="1395.40" x2="598.00" y2="1409.50" stroke="#000" stroke-width="3.40"/>
<rect x="593.15" y="1409.50" width="9.70" height="25.60" fill="#000"/>
<path d="M588.15 1431.60 L588.15 1432.80 A9.85 9.85 0 0 0 607.85 1432.80 L607.85 1431.60" stroke="#000" stroke-width="3" fill="none"/>
<line x1="694.00" y1="1395.40" x2="694.00" y2="1409.50" stroke="#000" stroke-width="3.40"/>
<rect x="689.15" y="1409.50" width="9.70" height="25.60" fill="#000"/>
<path d="M684.15 1431.60 L684.15 1432.80 A9.85 9.85 0 0 0 703.85 1432.80 L703.85 1431.60" stroke="#000" stroke-width="3" fill="none"/>
<line x1="790.00" y1="1395.40" x2="790.00" y2="1409.50" stroke="#000" stroke-width="3.40"/>
<rect x="785.15" y="1409.50" width="9.70" height="25.60" fill="#000"/>
<path d="M780.15 1431.60 L780.15 1432.80 A9.85 9.85 0 0 0 799.85 1432.80 L799.85 1431.60" stroke="#000" stroke-width="3" fill="none"/>
<line x1="983.00" y1="1395.40" x2="983.00" y2="1409.50" stroke="#000" stroke-width="3.40"/>
<rect x="978.15" y="1409.50" width="9.70" height="25.60" fill="#000"/>
<path d="M973.15 1431.60 L973.15 1432.80 A9.85 9.85 0 0 0 992.85 1432.80 L992.85 1431.60" stroke="#000" stroke-width="3" fill="none"/>
<line x1="1015.00" y1="1395.40" x2="1015.00" y2="1409.50" stroke="#000" stroke-width="3.40"/>
<rect x="1010.15" y="1409.50" width="9.70" height="25.60" fill="#000"/>
<path d="M1005.15 1431.60 L1005.15 1432.80 A9.85 9.85 0 0 0 1024.85 1432.80 L1024.85 1431.60" stroke="#000" stroke-width="3" fill="none"/>
<line x1="1047.00" y1="1395.40" x2="1047.00" y2="1409.50" stroke="#000" stroke-width="3.40"/>
<rect x="1042.15" y="1409.50" width="9.70" height="25.60" fill="#000"/>
<path d="M1037.15 1431.60 L1037.15 1432.80 A9.85 9.85 0 0 0 1056.85 1432.80 L1056.85 1431.60" stroke="#000" stroke-width="3" fill="none"/>
<path d="M598.00 1444.00 L598.00 1844.30 L369.30 1844.30" stroke="#000" stroke-width="3.40" fill="none" stroke-linejoin="miter"/>
<line x1="369.30" y1="1587.50" x2="598.00" y2="1587.50" stroke="#000" stroke-width="3.40"/>
<circle cx="598" cy="1587.5" r="6" fill="#000"/>
<path d="M694.00 1444.00 L694.00 1939.80 L1271.20 1939.80 L1271.20 1444.00" stroke="#000" stroke-width="3.40" fill="none" stroke-linejoin="miter"/>
<line x1="983.00" y1="1444.00" x2="983.00" y2="1621.00" stroke="#000" stroke-width="3.40"/>
<line x1="1015.00" y1="1444.00" x2="1015.00" y2="1621.00" stroke="#000" stroke-width="3.40"/>
<line x1="1047.00" y1="1444.00" x2="1047.00" y2="1461.00" stroke="#000" stroke-width="3.40"/>
<line x1="790.00" y1="1444.00" x2="790.00" y2="1473.00" stroke="#000" stroke-width="3.40"/>
<line x1="790.00" y1="1475.70" x2="790.00" y2="1482.60" stroke="#000" stroke-width="3.40"/>
<line x1="790.00" y1="1486.10" x2="790.00" y2="1501.90" stroke="#000" stroke-width="3.40"/>
<line x1="790.00" y1="1505.40" x2="790.00" y2="1511.50" stroke="#000" stroke-width="3.40"/>
<line x1="790.00" y1="1514.30" x2="790.00" y2="1530.50" stroke="#000" stroke-width="3.40"/>
<line x1="790.00" y1="1534.10" x2="790.00" y2="1540.50" stroke="#000" stroke-width="3.40"/>
<line x1="790.00" y1="1543.70" x2="790.00" y2="1587.50" stroke="#000" stroke-width="3.40"/>
<line x1="766.00" y1="1587.50" x2="814.00" y2="1587.50" stroke="#000" stroke-width="4.00"/>
<line x1="772.00" y1="1594.00" x2="808.00" y2="1594.00" stroke="#000" stroke-width="4.00"/>
<line x1="778.50" y1="1600.20" x2="801.50" y2="1600.20" stroke="#000" stroke-width="4.00"/>
<line x1="1367.30" y1="1444.00" x2="1367.30" y2="1473.00" stroke="#000" stroke-width="3.40"/>
<line x1="1367.30" y1="1475.70" x2="1367.30" y2="1482.60" stroke="#000" stroke-width="3.40"/>
<line x1="1367.30" y1="1486.10" x2="1367.30" y2="1501.90" stroke="#000" stroke-width="3.40"/>
<line x1="1367.30" y1="1505.40" x2="1367.30" y2="1511.50" stroke="#000" stroke-width="3.40"/>
<line x1="1367.30" y1="1514.30" x2="1367.30" y2="1530.50" stroke="#000" stroke-width="3.40"/>
<line x1="1367.30" y1="1534.10" x2="1367.30" y2="1540.50" stroke="#000" stroke-width="3.40"/>
<line x1="1367.30" y1="1543.70" x2="1367.30" y2="1587.50" stroke="#000" stroke-width="3.40"/>
<line x1="1343.30" y1="1587.50" x2="1391.30" y2="1587.50" stroke="#000" stroke-width="4.00"/>
<line x1="1349.30" y1="1594.00" x2="1385.30" y2="1594.00" stroke="#000" stroke-width="4.00"/>
<line x1="1355.80" y1="1600.20" x2="1378.80" y2="1600.20" stroke="#000" stroke-width="4.00"/>
<rect x="148.50" y="1522.50" width="481.50" height="225.50" stroke="#000" stroke-width="3.60" fill="none" stroke-dasharray="6.4 3.1"/>
<rect x="148.50" y="1779.00" width="481.50" height="160.00" stroke="#000" stroke-width="3.60" fill="none" stroke-dasharray="6.4 3.1"/>
<path d="M338.30 1574.70 L369.30 1587.50 L338.30 1600.30 Z" stroke="#000" stroke-width="3.20" fill="none" stroke-linejoin="miter"/>
<text x="385.28" y="1561.32" font-size="26.20" textLength="68.95" lengthAdjust="spacingAndGlyphs" stroke="#000" stroke-width="0.45">RS485</text>
<path d="M338.30 1831.50 L369.30 1844.30 L338.30 1857.10 Z" stroke="#000" stroke-width="3.20" fill="none" stroke-linejoin="miter"/>
<text x="385.28" y="1818.62" font-size="26.20" textLength="68.95" lengthAdjust="spacingAndGlyphs" stroke="#000" stroke-width="0.45">RS485</text>
<text x="212.14" y="1600.01" font-size="36.93" textLength="83.50" lengthAdjust="spacingAndGlyphs" stroke="#000" stroke-width="0.45">2-B5</text>
<text x="212.32" y="1856.92" font-size="36.79" textLength="85.41" lengthAdjust="spacingAndGlyphs" stroke="#000" stroke-width="0.45">4-C4</text>
<text x="160.56" y="1670.58" font-size="40.47" textLength="231.08" lengthAdjust="spacingAndGlyphs" stroke="#000" stroke-width="0.45">380-415 VAC</text>
<text x="161.14" y="1718.79" font-size="39.90" textLength="230.49" lengthAdjust="spacingAndGlyphs" stroke="#000" stroke-width="0.45">440-480 VAC</text>
<text x="160.09" y="1910.69" font-size="39.19" textLength="231.56" lengthAdjust="spacingAndGlyphs" stroke="#000" stroke-width="0.45">200-220 VAC</text>
<rect x="885.80" y="1587.30" width="225.00" height="288.70" stroke="#000" stroke-width="3.60" fill="none" stroke-dasharray="6.4 3.1"/>
<circle cx="998.8" cy="1699.7" r="80.5" stroke="#000" stroke-width="3.2" fill="none"/>
<text x="1058.28" y="1570.88" font-size="37.74" textLength="63.82" lengthAdjust="spacingAndGlyphs" stroke="#000" stroke-width="0.45">M 2</text>
<text x="971.85" y="1747.38" font-size="40.19" textLength="17.35" lengthAdjust="spacingAndGlyphs" stroke="#000" stroke-width="0.45">1</text>
<path d="M998.6 1729 L998.6 1727.3 A8 8 0 0 1 1014.6 1727.3 A8 8 0 0 0 1030.6 1727.3 L1030.6 1725" stroke="#000" stroke-width="3.1" fill="none"/>
<text x="898.74" y="1858.81" font-size="35.03" textLength="140.72" lengthAdjust="spacingAndGlyphs" stroke="#000" stroke-width="0.45">optional</text>
<rect x="1207.20" y="657.50" width="513.00" height="737.50" stroke="#000" stroke-width="3.00" fill="none"/>
<rect x="1255.00" y="657.50" width="32.50" height="160.50" stroke="#000" stroke-width="3.00" fill="none"/>
<rect x="1351.00" y="657.50" width="32.50" height="160.50" stroke="#000" stroke-width="3.00" fill="none"/>
<g transform="translate(1669.05 642.17)"><text x="0" y="0" font-size="40.33" textLength="55.52" lengthAdjust="spacingAndGlyphs" stroke="#000" stroke-width="0.45">A  </text><path transform="translate(34.951 0) scale(0.01806 -0.01969)" d="M515 0 L515 1237 L197 1010 L197 1180 L530 1409 L696 1409 L696 0 Z" fill="#000" stroke="#000" stroke-width="0.45" vector-effect="non-scaling-stroke"/></g>
<g transform="translate(1571.47 705.29)"><text x="0" y="0" font-size="39.19" textLength="145.56" lengthAdjust="spacingAndGlyphs" stroke="#000" stroke-width="0.45">USR-6 </text><path transform="translate(122.799 0) scale(0.01998 -0.01914)" d="M515 0 L515 1237 L197 1010 L197 1180 L530 1409 L696 1409 L696 0 Z" fill="#000" stroke="#000" stroke-width="0.45" vector-effect="non-scaling-stroke"/></g>
<g transform="translate(1248.82 725.32) rotate(-90)"><text x="0" y="0" font-size="26.06" textLength="57.13" lengthAdjust="spacingAndGlyphs" stroke="#000" stroke-width="0.45">X 07</text><path transform="translate(16.316 0) scale(0.01194 -0.01272)" d="M515 0 L515 1237 L197 1010 L197 1180 L530 1409 L696 1409 L696 0 Z" fill="#000" stroke="#000" stroke-width="0.45" vector-effect="non-scaling-stroke"/></g>
<text transform="translate(1281.52 808.34) rotate(-90)" font-size="26.35" textLength="69.40" lengthAdjust="spacingAndGlyphs" stroke="#000" stroke-width="0.45">40 Pin</text>
<g transform="translate(1345.08 725.28) rotate(-90)"><text x="0" y="0" font-size="26.82" textLength="52.31" lengthAdjust="spacingAndGlyphs" stroke="#000" stroke-width="0.45">X  4</text><path transform="translate(14.939 0) scale(0.01094 -0.01309)" d="M515 0 L515 1237 L197 1010 L197 1180 L530 1409 L696 1409 L696 0 Z" fill="#000" stroke="#000" stroke-width="0.45" vector-effect="non-scaling-stroke"/><path transform="translate(27.396 0) scale(0.01094 -0.01309)" d="M515 0 L515 1237 L197 1010 L197 1180 L530 1409 L696 1409 L696 0 Z" fill="#000" stroke="#000" stroke-width="0.45" vector-effect="non-scaling-stroke"/></g>
<text transform="translate(1377.71 809.82) rotate(-90)" font-size="27.05" textLength="54.39" lengthAdjust="spacingAndGlyphs" stroke="#000" stroke-width="0.45">USB</text>
<path d="M1271.20 611.00 L1271.20 528.50 L1912.80 528.50 L1912.80 657.50" stroke="#000" stroke-width="3.40" fill="none" stroke-linejoin="miter"/>
<rect x="1266.40" y="611.00" width="9.70" height="25.70" fill="#000"/>
<path d="M1261.35 633.3 L1261.35 634.4 A9.85 9.85 0 0 0 1281.05 634.4 L1281.05 633.3" stroke="#000" stroke-width="2.9" fill="none"/>
<line x1="1271.20" y1="644.00" x2="1271.20" y2="657.50" stroke="#000" stroke-width="3.40"/>
<g transform="translate(1494.30 840.48)"><text x="0" y="0" font-size="26.53" textLength="60.35" lengthAdjust="spacingAndGlyphs" stroke="#000" stroke-width="0.45">HA  </text><path transform="translate(45.252 0) scale(0.01325 -0.01295)" d="M515 0 L515 1237 L197 1010 L197 1180 L530 1409 L696 1409 L696 0 Z" fill="#000" stroke="#000" stroke-width="0.45" vector-effect="non-scaling-stroke"/></g>
<rect x="1495.50" y="849.10" width="33.00" height="33.00" stroke="#000" stroke-width="3.20" fill="none"/>
<path d="M1528.50 859.60 L1573.00 852.50 L1558.90 875.00 L1528.50 872.30" stroke="#000" stroke-width="3.00" fill="none" stroke-linejoin="miter"/>
<path d="M1511.50 882.10 L1511.50 914.00" stroke="#a3a3a3" stroke-width="3.60" fill="none" stroke-linejoin="miter" stroke-dasharray="16 3.4"/>
<path d="M1271.20 818.00 L1271.20 849.70 L1367.20 849.70" stroke="#a3a3a3" stroke-width="3.60" fill="none" stroke-linejoin="miter" stroke-dasharray="16 3.4"/>
<path d="M1367.20 818.00 L1367.20 914.00" stroke="#a3a3a3" stroke-width="3.60" fill="none" stroke-linejoin="miter" stroke-dasharray="16 3.4"/>
<path d="M1303.10 913.50 L1624.60 913.50 L1624.60 1138.30 L1303.10 1138.30 L1303.10 913.50" stroke="#a3a3a3" stroke-width="3.60" fill="none" stroke-linejoin="miter" stroke-dasharray="16 3.4"/>
<path d="M1303.10 1105.90 L1271.30 1105.90 L1271.30 1234.20" stroke="#a3a3a3" stroke-width="3.60" fill="none" stroke-linejoin="miter" stroke-dasharray="16 3.4"/>
<path d="M1624.60 1105.90 L1659.00 1105.90 L1659.00 1234.20" stroke="#a3a3a3" stroke-width="3.60" fill="none" stroke-linejoin="miter" stroke-dasharray="16 3.4"/>
<path d="M1464.40 1138.30 L1464.40 1234.20" stroke="#a3a3a3" stroke-width="3.60" fill="none" stroke-linejoin="miter" stroke-dasharray="16 3.4"/>
<path d="M1562.30 1138.30 L1562.30 1234.20" stroke="#a3a3a3" stroke-width="3.60" fill="none" stroke-linejoin="miter" stroke-dasharray="16 3.4"/>
<path d="M1319.20 1138.30 L1319.20 1170.70 L1337.50 1170.70" stroke="#a3a3a3" stroke-width="3.60" fill="none" stroke-linejoin="miter" stroke-dasharray="16 3.4"/>
<path d="M1391.00 1170.70 L1416.00 1170.70 L1416.00 1138.30" stroke="#a3a3a3" stroke-width="3.60" fill="none" stroke-linejoin="miter" stroke-dasharray="16 3.4"/>
<line x1="1337.50" y1="1170.70" x2="1353.00" y2="1170.70" stroke="#000" stroke-width="3.20"/>
<rect x="1353.00" y="1159.40" width="12.70" height="21.20" fill="#000"/>
<line x1="1374.20" y1="1149.60" x2="1374.20" y2="1190.50" stroke="#000" stroke-width="3.20"/>
<line x1="1374.20" y1="1170.70" x2="1391.00" y2="1170.70" stroke="#000" stroke-width="3.20"/>
<line x1="1334.70" y1="1157.20" x2="1343.20" y2="1157.20" stroke="#000" stroke-width="3.00"/>
<line x1="1385.50" y1="1157.20" x2="1394.00" y2="1157.20" stroke="#000" stroke-width="2.60"/>
<line x1="1389.70" y1="1153.00" x2="1389.70" y2="1161.40" stroke="#000" stroke-width="2.60"/>
<g transform="translate(1334.93 1215.68)"><text x="0" y="0" font-size="26.09" textLength="67.72" lengthAdjust="spacingAndGlyphs" stroke="#000" stroke-width="0.45">BAT  </text><path transform="translate(54.167 0) scale(0.01190 -0.01274)" d="M515 0 L515 1237 L197 1010 L197 1180 L530 1409 L696 1409 L696 0 Z" fill="#000" stroke="#000" stroke-width="0.45" vector-effect="non-scaling-stroke"/></g>
<rect x="1254.50" y="1234.20" width="33.00" height="160.80" stroke="#000" stroke-width="3.00" fill="none"/>
<rect x="1351.00" y="1234.20" width="33.00" height="160.80" stroke="#000" stroke-width="3.00" fill="none"/>
<rect x="1447.50" y="1234.20" width="33.00" height="160.80" stroke="#000" stroke-width="3.00" fill="none"/>
<rect x="1543.50" y="1234.20" width="33.00" height="160.80" stroke="#000" stroke-width="3.00" fill="none"/>
<rect x="1640.00" y="1234.20" width="33.00" height="160.80" stroke="#000" stroke-width="3.00" fill="none"/>
<g transform="translate(1248.82 1382.52) rotate(-90)"><text x="0" y="0" font-size="26.06" textLength="56.35" lengthAdjust="spacingAndGlyphs" stroke="#000" stroke-width="0.45">X 06</text><path transform="translate(16.094 0) scale(0.01178 -0.01272)" d="M515 0 L515 1237 L197 1010 L197 1180 L530 1409 L696 1409 L696 0 Z" fill="#000" stroke="#000" stroke-width="0.45" vector-effect="non-scaling-stroke"/></g>
<g transform="translate(1280.63 1385.20) rotate(-90)"><text x="0" y="0" font-size="24.85" textLength="68.55" lengthAdjust="spacingAndGlyphs" stroke="#000" stroke-width="0.45"> 0 Pin</text><path transform="translate(0.000 0) scale(0.01180 -0.01213)" d="M515 0 L515 1237 L197 1010 L197 1180 L530 1409 L696 1409 L696 0 Z" fill="#000" stroke="#000" stroke-width="0.45" vector-effect="non-scaling-stroke"/></g>
<g transform="translate(1344.82 1382.52) rotate(-90)"><text x="0" y="0" font-size="26.06" textLength="56.51" lengthAdjust="spacingAndGlyphs" stroke="#000" stroke-width="0.45">X 02</text><path transform="translate(16.139 0) scale(0.01181 -0.01272)" d="M515 0 L515 1237 L197 1010 L197 1180 L530 1409 L696 1409 L696 0 Z" fill="#000" stroke="#000" stroke-width="0.45" vector-effect="non-scaling-stroke"/></g>
<text transform="translate(1376.68 1384.94) rotate(-90)" font-size="25.95" textLength="85.48" lengthAdjust="spacingAndGlyphs" stroke="#000" stroke-width="0.45">EARTH</text>
<g transform="translate(1441.08 1382.48) rotate(-90)"><text x="0" y="0" font-size="26.82" textLength="52.07" lengthAdjust="spacingAndGlyphs" stroke="#000" stroke-width="0.45">X   </text><path transform="translate(14.872 0) scale(0.01089 -0.01309)" d="M515 0 L515 1237 L197 1010 L197 1180 L530 1409 L696 1409 L696 0 Z" fill="#000" stroke="#000" stroke-width="0.45" vector-effect="non-scaling-stroke"/><path transform="translate(27.273 0) scale(0.01089 -0.01309)" d="M515 0 L515 1237 L197 1010 L197 1180 L530 1409 L696 1409 L696 0 Z" fill="#000" stroke="#000" stroke-width="0.45" vector-effect="non-scaling-stroke"/><path transform="translate(39.673 0) scale(0.01089 -0.01309)" d="M515 0 L515 1237 L197 1010 L197 1180 L530 1409 L696 1409 L696 0 Z" fill="#000" stroke="#000" stroke-width="0.45" vector-effect="non-scaling-stroke"/></g>
<g transform="translate(1474.02 1384.75) rotate(-90)"><text x="0" y="0" font-size="26.62" textLength="111.24" lengthAdjust="spacingAndGlyphs" stroke="#000" stroke-width="0.45">Ethernet  </text><path transform="translate(97.835 0) scale(0.01177 -0.01300)" d="M515 0 L515 1237 L197 1010 L197 1180 L530 1409 L696 1409 L696 0 Z" fill="#000" stroke="#000" stroke-width="0.45" vector-effect="non-scaling-stroke"/></g>
<g transform="translate(1537.58 1382.59) rotate(-90)"><text x="0" y="0" font-size="26.42" textLength="53.10" lengthAdjust="spacingAndGlyphs" stroke="#000" stroke-width="0.45">X  2</text><path transform="translate(15.166 0) scale(0.01110 -0.01290)" d="M515 0 L515 1237 L197 1010 L197 1180 L530 1409 L696 1409 L696 0 Z" fill="#000" stroke="#000" stroke-width="0.45" vector-effect="non-scaling-stroke"/><path transform="translate(27.812 0) scale(0.01110 -0.01290)" d="M515 0 L515 1237 L197 1010 L197 1180 L530 1409 L696 1409 L696 0 Z" fill="#000" stroke="#000" stroke-width="0.45" vector-effect="non-scaling-stroke"/></g>
<text transform="translate(1569.43 1384.73) rotate(-90)" font-size="25.12" textLength="109.90" lengthAdjust="spacingAndGlyphs" stroke="#000" stroke-width="0.45">Ethernet 2</text>
<g transform="translate(1633.52 1382.58) rotate(-90)"><text x="0" y="0" font-size="26.06" textLength="52.44" lengthAdjust="spacingAndGlyphs" stroke="#000" stroke-width="0.45">X  3</text><path transform="translate(14.977 0) scale(0.01096 -0.01272)" d="M515 0 L515 1237 L197 1010 L197 1180 L530 1409 L696 1409 L696 0 Z" fill="#000" stroke="#000" stroke-width="0.45" vector-effect="non-scaling-stroke"/><path transform="translate(27.465 0) scale(0.01096 -0.01272)" d="M515 0 L515 1237 L197 1010 L197 1180 L530 1409 L696 1409 L696 0 Z" fill="#000" stroke="#000" stroke-width="0.45" vector-effect="non-scaling-stroke"/></g>
<g transform="translate(1665.48 1385.20) rotate(-90)"><text x="0" y="0" font-size="25.46" textLength="68.44" lengthAdjust="spacingAndGlyphs" stroke="#000" stroke-width="0.45"> 4 Pin</text><path transform="translate(0.000 0) scale(0.01179 -0.01243)" d="M515 0 L515 1237 L197 1010 L197 1180 L530 1409 L696 1409 L696 0 Z" fill="#000" stroke="#000" stroke-width="0.45" vector-effect="non-scaling-stroke"/></g>
<line x1="1271.20" y1="1395.00" x2="1271.20" y2="1409.50" stroke="#000" stroke-width="3.40"/>
<rect x="1266.35" y="1409.50" width="9.70" height="25.60" fill="#000"/>
<path d="M1261.35 1431.60 L1261.35 1432.80 A9.85 9.85 0 0 0 1281.05 1432.80 L1281.05 1431.60" stroke="#000" stroke-width="3" fill="none"/>
<line x1="1367.30" y1="1395.00" x2="1367.30" y2="1409.50" stroke="#000" stroke-width="3.40"/>
<rect x="1362.45" y="1409.50" width="9.70" height="25.60" fill="#000"/>
<path d="M1357.45 1431.60 L1357.45 1432.80 A9.85 9.85 0 0 0 1377.15 1432.80 L1377.15 1431.60" stroke="#000" stroke-width="3" fill="none"/>
<line x1="1656.20" y1="1395.00" x2="1656.20" y2="1409.50" stroke="#000" stroke-width="3.40"/>
<rect x="1651.35" y="1409.50" width="9.70" height="25.60" fill="#000"/>
<path d="M1646.35 1431.60 L1646.35 1432.80 A9.85 9.85 0 0 0 1666.05 1432.80 L1666.05 1431.60" stroke="#000" stroke-width="3" fill="none"/>
<line x1="1656.20" y1="1444.00" x2="1656.20" y2="1587.40" stroke="#000" stroke-width="3.40"/>
<rect x="1816.00" y="657.60" width="625.90" height="641.00" stroke="#000" stroke-width="3.20" fill="none"/>
<rect x="1897.00" y="657.60" width="32.00" height="160.50" stroke="#000" stroke-width="3.00" fill="none"/>
<text x="2374.96" y="642.38" font-size="39.74" textLength="52.79" lengthAdjust="spacingAndGlyphs" stroke="#000" stroke-width="0.45">A 2</text>
<text x="2297.16" y="705.29" font-size="36.53" textLength="130.70" lengthAdjust="spacingAndGlyphs" stroke="#000" stroke-width="0.45">Display</text>
<text transform="translate(1923.01 808.03) rotate(-90)" font-size="27.57" textLength="68.68" lengthAdjust="spacingAndGlyphs" stroke="#000" stroke-width="0.45">40 Pin</text>
<path d="M1913.00 818.10 L1913.00 865.10" stroke="#a3a3a3" stroke-width="3.60" fill="none" stroke-linejoin="miter" stroke-dasharray="16 3.4"/>
<path d="M1880.30 865.10 L2377.00 865.10 L2409.90 881.70 L2409.90 1250.40 L2377.00 1266.70 L1880.90 1266.70 L1848.00 1250.40 L1848.00 881.70 Z" stroke="#000" stroke-width="3.20" fill="none" stroke-linejoin="miter"/>
<rect x="1880.30" y="898.00" width="497.60" height="272.10" stroke="#000" stroke-width="3.20" fill="none"/>
<rect x="1880.30" y="1202.40" width="192.70" height="16.30" stroke="#000" stroke-width="3.20" fill="none"/>
<rect x="1591.20" y="1587.40" width="577.90" height="288.70" stroke="#000" stroke-width="3.20" fill="none"/>
<text x="2133.08" y="1570.98" font-size="37.86" textLength="54.98" lengthAdjust="spacingAndGlyphs" stroke="#000" stroke-width="0.45">HB</text>
<g transform="translate(1672.17 1618.75)"><text x="0" y="0" font-size="23.35" textLength="152.68" lengthAdjust="spacingAndGlyphs" stroke="#000" stroke-width="0.45"> 5 Pin SUB-D</text><path transform="translate(0.000 0) scale(0.01198 -0.01140)" d="M515 0 L515 1237 L197 1010 L197 1180 L530 1409 L696 1409 L696 0 Z" fill="#000" stroke="#000" stroke-width="0.45" vector-effect="non-scaling-stroke"/></g>
<rect x="1640.40" y="1683.80" width="481.00" height="192.30" stroke="#000" stroke-width="3.20" fill="none"/>
<line x1="1672.47" y1="1683.80" x2="1672.47" y2="1876.10" stroke="#000" stroke-width="3.20"/>
<line x1="1704.53" y1="1683.80" x2="1704.53" y2="1876.10" stroke="#000" stroke-width="3.20"/>
<line x1="1736.60" y1="1683.80" x2="1736.60" y2="1876.10" stroke="#000" stroke-width="3.20"/>
<line x1="1768.67" y1="1683.80" x2="1768.67" y2="1876.10" stroke="#000" stroke-width="3.20"/>
<line x1="1800.73" y1="1683.80" x2="1800.73" y2="1876.10" stroke="#000" stroke-width="3.20"/>
<line x1="1832.80" y1="1683.80" x2="1832.80" y2="1876.10" stroke="#000" stroke-width="3.20"/>
<line x1="1864.87" y1="1683.80" x2="1864.87" y2="1876.10" stroke="#000" stroke-width="3.20"/>
<line x1="1896.93" y1="1683.80" x2="1896.93" y2="1876.10" stroke="#000" stroke-width="3.20"/>
<line x1="1929.00" y1="1683.80" x2="1929.00" y2="1876.10" stroke="#000" stroke-width="3.20"/>
<line x1="1961.07" y1="1683.80" x2="1961.07" y2="1876.10" stroke="#000" stroke-width="3.20"/>
<line x1="1993.13" y1="1683.80" x2="1993.13" y2="1876.10" stroke="#000" stroke-width="3.20"/>
<line x1="2025.20" y1="1683.80" x2="2025.20" y2="1876.10" stroke="#000" stroke-width="3.20"/>
<line x1="2057.27" y1="1683.80" x2="2057.27" y2="1876.10" stroke="#000" stroke-width="3.20"/>
<line x1="2089.33" y1="1683.80" x2="2089.33" y2="1876.10" stroke="#000" stroke-width="3.20"/>
<path d="M1656.20 1587.40 L1656.20 1684.00" stroke="#a3a3a3" stroke-width="2.60" fill="none" stroke-linejoin="miter" stroke-dasharray="5 4"/>
<path d="M1656.20 1651.40 L2105.80 1651.40" stroke="#a3a3a3" stroke-width="2.60" fill="none" stroke-linejoin="miter" stroke-dasharray="5 4"/>
<path d="M1688.50 1651.40 L1688.50 1684.00" stroke="#a3a3a3" stroke-width="2.60" fill="none" stroke-linejoin="miter" stroke-dasharray="5 4"/>
<path d="M1720.57 1651.40 L1720.57 1684.00" stroke="#a3a3a3" stroke-width="2.60" fill="none" stroke-linejoin="miter" stroke-dasharray="5 4"/>
<path d="M1752.63 1651.40 L1752.63 1684.00" stroke="#a3a3a3" stroke-width="2.60" fill="none" stroke-linejoin="miter" stroke-dasharray="5 4"/>
<path d="M1784.70 1651.40 L1784.70 1684.00" stroke="#a3a3a3" stroke-width="2.60" fill="none" stroke-linejoin="miter" stroke-dasharray="5 4"/>
<path d="M1816.77 1651.40 L1816.77 1684.00" stroke="#a3a3a3" stroke-width="2.60" fill="none" stroke-linejoin="miter" stroke-dasharray="5 4"/>
<path d="M1848.83 1651.40 L1848.83 1684.00" stroke="#a3a3a3" stroke-width="2.60" fill="none" stroke-linejoin="miter" stroke-dasharray="5 4"/>
<path d="M1880.90 1651.40 L1880.90 1684.00" stroke="#a3a3a3" stroke-width="2.60" fill="none" stroke-linejoin="miter" stroke-dasharray="5 4"/>
<path d="M1912.97 1651.40 L1912.97 1684.00" stroke="#a3a3a3" stroke-width="2.60" fill="none" stroke-linejoin="miter" stroke-dasharray="5 4"/>
<path d="M1945.03 1651.40 L1945.03 1684.00" stroke="#a3a3a3" stroke-width="2.60" fill="none" stroke-linejoin="miter" stroke-dasharray="5 4"/>
<path d="M1977.10 1651.40 L1977.10 1684.00" stroke="#a3a3a3" stroke-width="2.60" fill="none" stroke-linejoin="miter" stroke-dasharray="5 4"/>
<path d="M2009.17 1651.40 L2009.17 1684.00" stroke="#a3a3a3" stroke-width="2.60" fill="none" stroke-linejoin="miter" stroke-dasharray="5 4"/>
<path d="M2041.23 1651.40 L2041.23 1684.00" stroke="#a3a3a3" stroke-width="2.60" fill="none" stroke-linejoin="miter" stroke-dasharray="5 4"/>
<path d="M2073.30 1651.40 L2073.30 1684.00" stroke="#a3a3a3" stroke-width="2.60" fill="none" stroke-linejoin="miter" stroke-dasharray="5 4"/>
<path d="M2105.37 1651.40 L2105.37 1684.00" stroke="#a3a3a3" stroke-width="2.60" fill="none" stroke-linejoin="miter" stroke-dasharray="5 4"/>
<text transform="translate(1630.43 1865.81) rotate(-90)" font-size="25.35" textLength="49.22" lengthAdjust="spacingAndGlyphs" stroke="#000" stroke-width="0.45">X 79</text>
<g transform="translate(1665.81 1866.85) rotate(-90)"><text x="0" y="0" font-size="25.60" textLength="57.59" lengthAdjust="spacingAndGlyphs" stroke="#000" stroke-width="0.45">Pin  </text><path transform="translate(43.536 0) scale(0.01234 -0.01250)" d="M515 0 L515 1237 L197 1010 L197 1180 L530 1409 L696 1409 L696 0 Z" fill="#000" stroke="#000" stroke-width="0.45" vector-effect="non-scaling-stroke"/></g>
<text transform="translate(1665.81 1984.47) rotate(-90)" font-size="26.57" textLength="64.75" lengthAdjust="spacingAndGlyphs" stroke="#000" stroke-width="0.45">+24 V</text>
<text transform="translate(1697.88 1866.82) rotate(-90)" font-size="25.60" textLength="56.85" lengthAdjust="spacingAndGlyphs" stroke="#000" stroke-width="0.45">Pin 2</text>
<text transform="translate(1697.62 1984.54) rotate(-90)" font-size="26.20" textLength="56.02" lengthAdjust="spacingAndGlyphs" stroke="#000" stroke-width="0.45">GND</text>
<text transform="translate(1729.69 1866.82) rotate(-90)" font-size="25.26" textLength="56.68" lengthAdjust="spacingAndGlyphs" stroke="#000" stroke-width="0.45">Pin 3</text>
<text transform="translate(1729.69 1984.54) rotate(-90)" font-size="26.20" textLength="56.02" lengthAdjust="spacingAndGlyphs" stroke="#000" stroke-width="0.45">GND</text>
<text transform="translate(1762.01 1866.80) rotate(-90)" font-size="25.60" textLength="56.30" lengthAdjust="spacingAndGlyphs" stroke="#000" stroke-width="0.45">Pin 4</text>
<text transform="translate(1761.75 1984.54) rotate(-90)" font-size="26.20" textLength="56.02" lengthAdjust="spacingAndGlyphs" stroke="#000" stroke-width="0.45">GND</text>
<text transform="translate(1793.83 1866.81) rotate(-90)" font-size="25.26" textLength="56.63" lengthAdjust="spacingAndGlyphs" stroke="#000" stroke-width="0.45">Pin 5</text>
<text transform="translate(1794.08 1984.47) rotate(-90)" font-size="26.57" textLength="64.75" lengthAdjust="spacingAndGlyphs" stroke="#000" stroke-width="0.45">+24 V</text>
<text transform="translate(1825.89 1866.82) rotate(-90)" font-size="25.26" textLength="56.68" lengthAdjust="spacingAndGlyphs" stroke="#000" stroke-width="0.45">Pin 6</text>
<text transform="translate(1826.14 1984.47) rotate(-90)" font-size="26.57" textLength="64.75" lengthAdjust="spacingAndGlyphs" stroke="#000" stroke-width="0.45">+24 V</text>
<text transform="translate(1858.21 1866.82) rotate(-90)" font-size="25.60" textLength="56.85" lengthAdjust="spacingAndGlyphs" stroke="#000" stroke-width="0.45">Pin 7</text>
<text transform="translate(1890.03 1866.81) rotate(-90)" font-size="25.26" textLength="56.67" lengthAdjust="spacingAndGlyphs" stroke="#000" stroke-width="0.45">Pin 8</text>
<text transform="translate(1922.09 1866.82) rotate(-90)" font-size="25.26" textLength="56.77" lengthAdjust="spacingAndGlyphs" stroke="#000" stroke-width="0.45">Pin 9</text>
<text transform="translate(1922.09 1984.54) rotate(-90)" font-size="26.20" textLength="56.02" lengthAdjust="spacingAndGlyphs" stroke="#000" stroke-width="0.45">GND</text>
<g transform="translate(1954.16 1866.76) rotate(-90)"><text x="0" y="0" font-size="25.26" textLength="68.47" lengthAdjust="spacingAndGlyphs" stroke="#000" stroke-width="0.45">Pin  0</text><path transform="translate(41.613 0) scale(0.01179 -0.01233)" d="M515 0 L515 1237 L197 1010 L197 1180 L530 1409 L696 1409 L696 0 Z" fill="#000" stroke="#000" stroke-width="0.45" vector-effect="non-scaling-stroke"/></g>
<text transform="translate(1954.15 1984.57) rotate(-90)" font-size="26.20" textLength="74.89" lengthAdjust="spacingAndGlyphs" stroke="#000" stroke-width="0.45">CAN L</text>
<g transform="translate(1986.48 1866.70) rotate(-90)"><text x="0" y="0" font-size="25.60" textLength="66.55" lengthAdjust="spacingAndGlyphs" stroke="#000" stroke-width="0.45">Pin   </text><path transform="translate(40.445 0) scale(0.01146 -0.01250)" d="M515 0 L515 1237 L197 1010 L197 1180 L530 1409 L696 1409 L696 0 Z" fill="#000" stroke="#000" stroke-width="0.45" vector-effect="non-scaling-stroke"/><path transform="translate(53.499 0) scale(0.01146 -0.01250)" d="M515 0 L515 1237 L197 1010 L197 1180 L530 1409 L696 1409 L696 0 Z" fill="#000" stroke="#000" stroke-width="0.45" vector-effect="non-scaling-stroke"/></g>
<text transform="translate(1986.22 1984.57) rotate(-90)" font-size="26.20" textLength="79.43" lengthAdjust="spacingAndGlyphs" stroke="#000" stroke-width="0.45">CAN H</text>
<g transform="translate(2018.54 1866.76) rotate(-90)"><text x="0" y="0" font-size="25.60" textLength="68.76" lengthAdjust="spacingAndGlyphs" stroke="#000" stroke-width="0.45">Pin  2</text><path transform="translate(41.786 0) scale(0.01184 -0.01250)" d="M515 0 L515 1237 L197 1010 L197 1180 L530 1409 L696 1409 L696 0 Z" fill="#000" stroke="#000" stroke-width="0.45" vector-effect="non-scaling-stroke"/></g>
<text transform="translate(2018.54 1984.47) rotate(-90)" font-size="26.57" textLength="64.75" lengthAdjust="spacingAndGlyphs" stroke="#000" stroke-width="0.45">+24 V</text>
<g transform="translate(2050.36 1866.76) rotate(-90)"><text x="0" y="0" font-size="25.26" textLength="68.60" lengthAdjust="spacingAndGlyphs" stroke="#000" stroke-width="0.45">Pin  3</text><path transform="translate(41.688 0) scale(0.01181 -0.01233)" d="M515 0 L515 1237 L197 1010 L197 1180 L530 1409 L696 1409 L696 0 Z" fill="#000" stroke="#000" stroke-width="0.45" vector-effect="non-scaling-stroke"/></g>
<text transform="translate(2050.61 1984.47) rotate(-90)" font-size="26.57" textLength="64.75" lengthAdjust="spacingAndGlyphs" stroke="#000" stroke-width="0.45">+24 V</text>
<g transform="translate(2082.68 1866.75) rotate(-90)"><text x="0" y="0" font-size="25.60" textLength="68.23" lengthAdjust="spacingAndGlyphs" stroke="#000" stroke-width="0.45">Pin  4</text><path transform="translate(41.464 0) scale(0.01175 -0.01250)" d="M515 0 L515 1237 L197 1010 L197 1180 L530 1409 L696 1409 L696 0 Z" fill="#000" stroke="#000" stroke-width="0.45" vector-effect="non-scaling-stroke"/></g>
<text transform="translate(2082.42 1984.54) rotate(-90)" font-size="26.20" textLength="56.02" lengthAdjust="spacingAndGlyphs" stroke="#000" stroke-width="0.45">GND</text>
<g transform="translate(2114.49 1866.76) rotate(-90)"><text x="0" y="0" font-size="25.26" textLength="68.55" lengthAdjust="spacingAndGlyphs" stroke="#000" stroke-width="0.45">Pin  5</text><path transform="translate(41.658 0) scale(0.01180 -0.01233)" d="M515 0 L515 1237 L197 1010 L197 1180 L530 1409 L696 1409 L696 0 Z" fill="#000" stroke="#000" stroke-width="0.45" vector-effect="non-scaling-stroke"/></g>
<text x="2795.30" y="2162.77" font-size="39.22" textLength="76.60" lengthAdjust="spacingAndGlyphs" stroke="#000" stroke-width="0.70">date</text>
<text x="2987.82" y="2163.15" font-size="40.51" textLength="95.22" lengthAdjust="spacingAndGlyphs" stroke="#000" stroke-width="0.70">name</text>
<text x="3256.06" y="2162.95" font-size="40.85" textLength="53.45" lengthAdjust="spacingAndGlyphs" stroke="#000" stroke-width="0.70">file</text>
<text x="2551.65" y="2226.82" font-size="39.16" textLength="111.96" lengthAdjust="spacingAndGlyphs" stroke="#000" stroke-width="0.70">design</text>
<text x="2729.75" y="2226.45" font-size="39.24" textLength="203.03" lengthAdjust="spacingAndGlyphs" stroke="#000" stroke-width="0.70">2022-02-21</text>
<text x="3004.65" y="2226.45" font-size="39.24" textLength="72.26" lengthAdjust="spacingAndGlyphs" stroke="#000" stroke-width="0.70">SHA</text>
<text x="3144.94" y="2227.15" font-size="41.28" textLength="272.21" lengthAdjust="spacingAndGlyphs" stroke="#000" stroke-width="0.70">S8074 2024-07</text>
<text x="2541.80" y="2290.00" font-size="35.68" textLength="132.14" lengthAdjust="spacingAndGlyphs" stroke="#000" stroke-width="0.70">revision</text>
<text x="2729.74" y="2291.15" font-size="39.24" textLength="204.40" lengthAdjust="spacingAndGlyphs" stroke="#000" stroke-width="0.70">2024-07-29</text>
<text x="3004.65" y="2291.15" font-size="39.24" textLength="72.26" lengthAdjust="spacingAndGlyphs" stroke="#000" stroke-width="0.70">SHA</text>
<text x="2557.83" y="2354.07" font-size="38.54" textLength="99.87" lengthAdjust="spacingAndGlyphs" stroke="#000" stroke-width="0.70">check</text>
<text x="2729.74" y="2355.25" font-size="40.41" textLength="204.40" lengthAdjust="spacingAndGlyphs" stroke="#000" stroke-width="0.70">2024-07-29</text>
<text x="3014.40" y="2355.25" font-size="40.41" textLength="54.01" lengthAdjust="spacingAndGlyphs" stroke="#000" stroke-width="0.70">BM</text>
<text x="3239.88" y="2324.15" font-size="42.44" textLength="82.32" lengthAdjust="spacingAndGlyphs" stroke="#000" stroke-width="0.70">7/10</text>
</svg>
</body></html>
